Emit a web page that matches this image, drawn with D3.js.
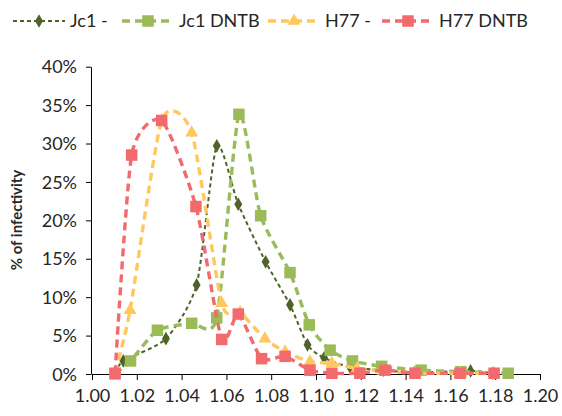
<!DOCTYPE html>
<html><head><meta charset="utf-8">
<script src="https://cdn.jsdelivr.net/npm/d3@7"></script>
<style>
html,body{margin:0;padding:0;background:#fff;}
svg{display:block;font-family:Lato,"Open Sans",sans-serif;}
</style></head>
<body>
<svg id="chart" width="562" height="416"></svg>
<script>
// ---- data ----
const seriesNames = ["Jc1 -", "Jc1 DNTB", "H77 -", "H77 DNTB"];
const xTicks = [1.00,1.02,1.04,1.06,1.08,1.10,1.12,1.14,1.16,1.18,1.20];
const yTicks = [0,0.05,0.10,0.15,0.20,0.25,0.30,0.35,0.40];

const jc1X   = [1.0103,1.0140,1.0330,1.0467,1.0557,1.0653,1.0775,1.0884,1.0962,1.1036,1.1152,1.1300,1.1440,1.1690,1.1790];
const jc1Y   = [0.1,1.7,4.6,11.6,29.7,22.1,14.6,9.0,3.8,2.1,0.9,0.5,0.2,0.4,0.1];
const jc1dX  = [1.0103,1.0172,1.0292,1.0445,1.0557,1.0656,1.0753,1.0884,1.0970,1.1063,1.1163,1.1293,1.1469,1.1647,1.1858];
const jc1dY  = [0.0,1.7,5.7,6.6,7.3,33.8,20.6,13.2,6.4,3.1,1.7,1.0,0.5,0.3,0.1];
const h77X   = [1.0103,1.0170,1.0311,1.0445,1.0579,1.0661,1.0772,1.0862,1.0973,1.1070,1.1183,1.1299,1.1442,1.1643,1.1795];
const h77Y   = [0.2,8.3,33.0,31.4,9.2,8.0,4.6,2.9,1.6,1.4,0.7,0.4,0.1,0.1,0.1];
const h77dX  = [1.0103,1.0177,1.0311,1.0464,1.0579,1.0653,1.0757,1.0862,1.0973,1.1071,1.1196,1.1308,1.1442,1.1643,1.1795];
const h77dY  = [0.1,28.5,33.0,21.8,4.5,7.8,2.0,2.3,0.5,0.1,0.1,0.5,0.1,0.1,0.1];

// ---- styles ----
const styles = [
  {color:"#4F6228", width:2,   dash:"4,3", marker:"diamond",  size:9.5},
  {color:"#9BBB59", width:3.4, dash:"8,5", marker:"square",   size:11.5},
  {color:"#FFC85E", width:3.4, dash:"8,5", marker:"triangle", size:11.5},
  {color:"#F26A6D", width:3.4, dash:"8,5", marker:"square",   size:11.5}
];
const seriesX = [jc1X, jc1dX, h77X, h77dX];
const seriesY = [jc1Y, jc1dY, h77Y, h77dY];
const series = seriesNames.map((n,i)=>({name:n, style:styles[i],
  pts: seriesX[i].map((x,j)=>({x:x, y:seriesY[i][j]/100}))}));

const svg = d3.select("#chart");
const x = d3.scaleLinear().domain([1.00,1.20]).range([92,540]);
const y = d3.scaleLinear().domain([0,0.40]).range([374,66.7]);

// axes
const xAxis = svg.append("g").attr("transform","translate(0,374)")
  .call(d3.axisBottom(x).tickValues(xTicks).tickFormat(d3.format(".2f")).tickSize(6).tickSizeOuter(0));
const yAxis = svg.append("g").attr("transform","translate(91,0)")
  .call(d3.axisLeft(y).tickValues(yTicks).tickFormat(d3.format(".0%")).tickSize(5).tickSizeOuter(0));
[xAxis,yAxis].forEach(a=>{
  a.selectAll("path").attr("stroke","#000").attr("stroke-width",1);
  a.selectAll("line").attr("stroke","#000").attr("stroke-width",1);
  a.selectAll("text").attr("fill","#262626").style("font-size","18px").style("font-family","Lato");
});
xAxis.selectAll("text").attr("dy","1.05em");
yAxis.selectAll("text").attr("x",-14).attr("dy","0.34em");

svg.append("text").attr("transform","translate(22,220) rotate(-90)")
  .attr("text-anchor","middle").style("font-size","15px").style("font-weight","bold")
  .attr("fill","#262626").text("% of infectivity");

function markerPath(type,size){
  if(type==="diamond") return d3.symbol(d3.symbolDiamond, size*size*0.6)();
  if(type==="square") return d3.symbol(d3.symbolSquare, size*size)();
  return d3.symbol(d3.symbolTriangle, size*size*0.55)();
}

const line = d3.line().x(d=>x(d.x)).y(d=>y(d.y)).curve(d3.curveCardinal.tension(0.35));

series.forEach(s=>{
  const g = svg.append("g");
  g.append("path").datum(s.pts).attr("d",line).attr("fill","none")
    .attr("stroke",s.style.color).attr("stroke-width",s.style.width)
    .attr("stroke-dasharray",s.style.dash);
  g.selectAll("path.m").data(s.pts).enter().append("path").attr("class","m")
    .attr("d",markerPath(s.style.marker,s.style.size))
    .attr("transform",d=>`translate(${x(d.x)},${y(d.y)})`)
    .attr("fill",s.style.color);
});

// legend
const legendX = [13,122,268,382];
series.forEach((s,i)=>{
  const lx = legendX[i], ly = 21;
  const g = svg.append("g");
  g.append("line").attr("x1",lx).attr("x2",lx+52).attr("y1",ly).attr("y2",ly)
    .attr("stroke",s.style.color).attr("stroke-width",s.style.width).attr("stroke-dasharray",s.style.dash);
  g.append("path").attr("d",markerPath(s.style.marker,s.style.size))
    .attr("transform",`translate(${lx+26},${ly})`).attr("fill",s.style.color);
  g.append("text").attr("x",lx+57).attr("y",ly).attr("dy","0.35em")
    .style("font-size","18px").attr("fill","#262626").text(s.name);
});
</script>
</body></html>
